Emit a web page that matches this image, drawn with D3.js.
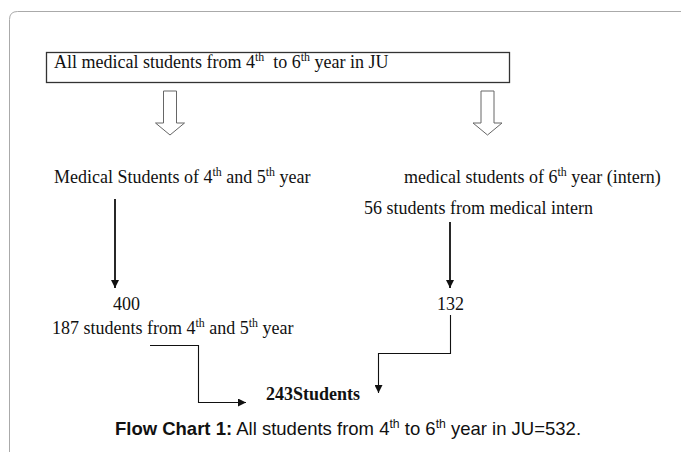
<!DOCTYPE html>
<meta charset="utf-8">
<title>Flow Chart 1</title>
<style>
*{ margin: 0; padding: 0; }
body{ background: #fff; }
svg{ display: block; }
.serif{ font-family: "Liberation Serif", "Times New Roman", serif; font-size: 18px; fill: #111; }
.caption{ font-family: "Liberation Sans", Arial, sans-serif; font-size: 18.5px; fill: #111; }
</style>
<body>
<script src="https://d3js.org/d3.v7.min.js"></script>
<div id="chart"></div>
<script>

var width = 681, height = 452;

// counts
var total = 532;
var groups = ["4th and 5th year", "6th year (intern)"];
var population = [400, 132];
var sample = [187, 56];
var pooled = 243;

// text of the boxes ("^" marks a superscript)
var topLabel = "All medical students from 4^th  to 6^th year in JU";
var groupLabels = ["Medical Students of 4^th and 5^th year", "medical students of 6^th year (intern)"];
var sampleLabels = [sample[0] + " students from 4^th and 5^th year", sample[1] + " students from medical intern"];
var captionBold = "Flow Chart 1:";
var captionText = " All students from 4^th to 6^th year in JU=" + total + ".";

// layout, in pixels
var col = d3.scaleOrdinal().domain(groups).range([115, 450]);
var hollowX = d3.scaleOrdinal().domain(groups).range([170, 487.5]);

var svg = d3.select("#chart").append("svg")
    .attr("width", width)
    .attr("height", height);

var defs = svg.append("defs");
defs.append("marker")
    .attr("id", "head")
    .attr("viewBox", "0 0 10 10")
    .attr("refX", 10).attr("refY", 5)
    .attr("markerWidth", 9).attr("markerHeight", 8)
    .attr("markerUnits", "userSpaceOnUse")
    .attr("orient", "auto")
  .append("path")
    .attr("d", "M0,0L10,5L0,10z")
    .attr("fill", "#111");

// outer page frame, only the left and top edges show
svg.append("path")
    .attr("d", "M9.5,452V19.5Q9.5,11.5 17.5,11.5H681")
    .attr("fill", "none")
    .attr("stroke", "#aaa");

/* put text with superscripts into a <text> */
function richText(sel, str, shift){
  var parts = str.split(/(\^\w+)/);
  parts.forEach(function(p){
    if(!p) return;
    if(p[0] == "^"){
      sel.append("tspan")
        .attr("baseline-shift", shift || 7)
        .attr("font-size", "0.66em")
        .text(p.slice(1));
    }else{
      sel.append("tspan").text(p);
    }
  });
  return sel;
}

function label(x, y, str, cls){
  var t = svg.append("text")
      .attr("class", cls || "serif")
      .attr("x", x).attr("y", y)
      .attr("xml:space", "preserve")
      .style("white-space", "pre");
  return richText(t, str);
}

// top box
svg.append("rect")
    .attr("x", 46.5).attr("y", 52.5)
    .attr("width", 463).attr("height", 30)
    .attr("fill", "#fff")
    .attr("stroke", "#333")
    .attr("stroke-width", 1.3);
label(54, 68, topLabel);

// hollow block arrows
groups.forEach(function(g){
  var cx = hollowX(g), top = 91, neck = 123, tip = 135, sw = 6.5, hw = 14.5;
  svg.append("path")
      .attr("d", "M" + (cx - sw) + "," + top + "H" + (cx + sw) + "V" + neck + "H" + (cx + hw) +
        "L" + cx + "," + tip + "L" + (cx - hw) + "," + neck + "H" + (cx - sw) + "Z")
      .attr("fill", "#fff")
      .attr("stroke", "#666")
      .attr("stroke-width", 1);
});

// group labels
label(54, 183, groupLabels[0]);
label(404, 183, groupLabels[1]);
label(364, 214, sampleLabels[1]);

// straight arrows down to the population counts
svg.append("line")
    .attr("x1", col(groups[0])).attr("y1", 199)
    .attr("x2", col(groups[0])).attr("y2", 288)
    .attr("stroke", "#111").attr("stroke-width", 1.8)
    .attr("marker-end", "url(#head)");
svg.append("line")
    .attr("x1", col(groups[1])).attr("y1", 222)
    .attr("x2", col(groups[1])).attr("y2", 288)
    .attr("stroke", "#111").attr("stroke-width", 1.8)
    .attr("marker-end", "url(#head)");

label(113, 310, String(population[0]));
label(437, 310, String(population[1]));
label(52, 334, sampleLabels[0]);

// elbow connectors into the pooled total
svg.append("path")
    .attr("d", "M150,345.5H198.5V402.5H246")
    .attr("fill", "none")
    .attr("stroke", "#111").attr("stroke-width", 1.1)
    .attr("marker-end", "url(#head)");
svg.append("path")
    .attr("d", "M450.5,315V353.5H378.5V393")
    .attr("fill", "none")
    .attr("stroke", "#111").attr("stroke-width", 1.1)
    .attr("marker-end", "url(#head)");

label(266, 400, pooled + "Students").attr("font-weight", "bold");

// caption
var cap = svg.append("text")
    .attr("class", "caption")
    .attr("x", 348).attr("y", 435)
    .attr("text-anchor", "middle")
    .attr("xml:space", "preserve");
cap.append("tspan").attr("font-weight", "bold").text(captionBold);
richText(cap, captionText, 7);

</script>
</body>
</html>
